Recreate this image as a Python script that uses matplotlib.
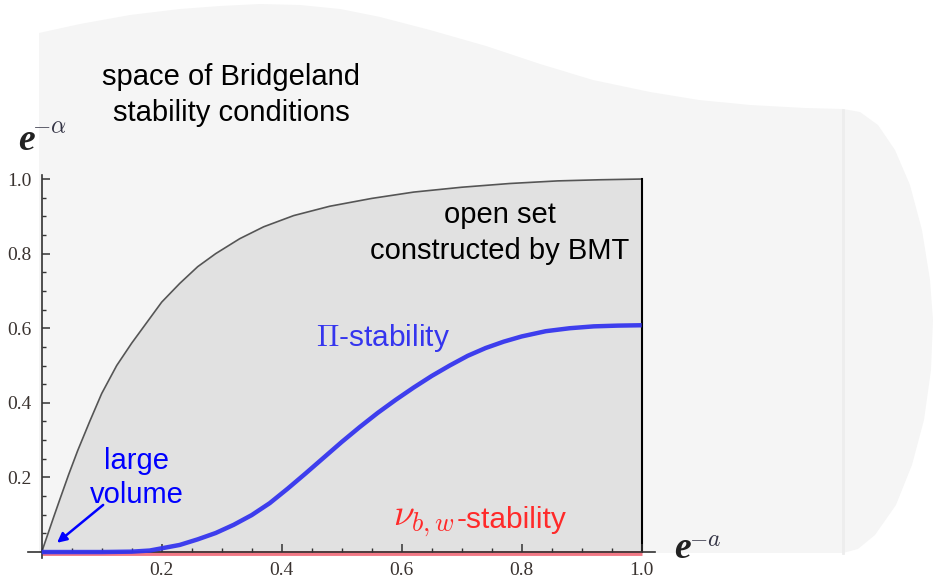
import numpy as np
import matplotlib
matplotlib.use("Agg")
import matplotlib.pyplot as plt
from matplotlib.patches import Polygon
from matplotlib.ticker import MultipleLocator

plt.rcParams['mathtext.fontset'] = 'cm'
plt.rcParams['font.family'] = ['Liberation Sans', 'DejaVu Sans']

# ---- data ----
bmt_x = [0, 0.01, 0.02, 0.03, 0.045, 0.06, 0.08, 0.10, 0.125, 0.15, 0.175, 0.20,
         0.23, 0.26, 0.29, 0.33, 0.37, 0.42, 0.48, 0.55, 0.62, 0.70, 0.78, 0.86, 0.93, 1.0]
bmt_y = [0, 0.047, 0.094, 0.14, 0.208, 0.272, 0.35, 0.425, 0.50, 0.56, 0.615, 0.67,
         0.72, 0.765, 0.80, 0.84, 0.872, 0.902, 0.927, 0.948, 0.965, 0.978, 0.988, 0.995, 0.998, 1.0]

pi_x = [0, 0.10, 0.15, 0.18, 0.20, 0.23, 0.26, 0.29, 0.32, 0.35, 0.38, 0.41, 0.44, 0.47,
        0.50, 0.53, 0.56, 0.59, 0.62, 0.65, 0.68, 0.71, 0.74, 0.77, 0.80, 0.84, 0.88, 0.92, 0.96, 1.0]
pi_y = [0, 0, 0.001, 0.004, 0.010, 0.019, 0.034, 0.051, 0.073, 0.099, 0.131, 0.17, 0.211, 0.253,
        0.295, 0.335, 0.373, 0.408, 0.441, 0.472, 0.50, 0.526, 0.547, 0.564, 0.578, 0.592, 0.600,
        0.605, 0.607, 0.608]

nu_x = [0, 1.0]
nu_y = [0, 0]

major_ticks = [0.2, 0.4, 0.6, 0.8, 1.0]
tick_labels = ['0.2', '0.4', '0.6', '0.8', '1.0']

W, H = 933, 578
fig = plt.figure(figsize=(W / 100, H / 100), dpi=100)
fig.patch.set_facecolor('white')

def fp(px, py):
    return (px / W, 1 - py / H)

# background blob (decoration)
top = [(39, 33), (80, 24), (130, 15), (180, 9), (220, 6), (260, 4), (300, 5), (340, 9),
       (380, 17), (430, 30), (486, 46), (540, 64), (593, 80), (650, 92), (699, 100),
       (750, 105), (805, 108), (843, 109)]
right = [(860, 112), (878, 125), (895, 150), (910, 185), (922, 230), (930, 280),
         (933, 320), (931, 370), (924, 420), (912, 465), (896, 505), (875, 535), (858, 549), (843, 553)]
bottom = [(39, 553)]
pts = [fp(*p) for p in top + right + bottom]
fig.patches.append(Polygon(pts, closed=True, transform=fig.transFigure,
                           facecolor='#f5f5f5', edgecolor='none', zorder=-5))
fig.lines.append(plt.Line2D([843 / W, 843 / W], [1 - 110 / H, 1 - 553 / H],
                            transform=fig.transFigure, color='#ededed', lw=2.0, zorder=-4))

# axes
left_px, right_px, top_px, bot_px = 28.5, 654.9, 175.3, 558.0
ax = fig.add_axes([left_px / W, 1 - bot_px / H, (right_px - left_px) / W, (bot_px - top_px) / H])
ax.set_zorder(2)
ax.set_facecolor('none')
ax.set_xlim(-0.022, 1.022)
ax.set_ylim(-0.016, 1.01)

ax.fill_between(bmt_x, bmt_y, 0, color='#e1e1e1', lw=0, zorder=1)
ax.plot(bmt_x, bmt_y, color='#555555', lw=1.2, zorder=2)
ax.plot([1.0, 1.0], [0, 1.0], color='black', lw=1.5, zorder=2)
ax.plot(nu_x, [v - 0.003 for v in nu_y], color='#f06070', lw=3.5, alpha=0.85, zorder=4,
        solid_capstyle='butt')
ax.plot(pi_x, pi_y, color='#3535ee', lw=3.2, zorder=7, alpha=0.95, solid_capstyle='butt')

for s in ['top', 'right']:
    ax.spines[s].set_visible(False)
for s in ['left', 'bottom']:
    ax.spines[s].set_position(('data', 0))
    ax.spines[s].set_color('#333333')
    ax.spines[s].set_linewidth(1.2)
    ax.spines[s].set_zorder(5)
ax.xaxis.set_zorder(5)
ax.yaxis.set_zorder(5)

ax.set_xticks(major_ticks)
ax.set_xticklabels(tick_labels)
ax.set_yticks(major_ticks)
ax.set_yticklabels(tick_labels)
ax.xaxis.set_minor_locator(MultipleLocator(0.05))
ax.yaxis.set_minor_locator(MultipleLocator(0.05))
ax.tick_params(which='major', direction='in', length=5.5, width=1.1, color='#333333',
               labelsize=14, labelcolor='#3a3330', pad=7)
ax.tick_params(which='minor', direction='in', length=3, width=1.0, color='#333333')
for lab in ax.get_xticklabels() + ax.get_yticklabels():
    lab.set_family(['Liberation Serif'])

# axis labels
fig.text(*fp(26, 141), 'e', family=['Liberation Serif'], style='italic', weight='bold',
         fontsize=27, ha='center', va='center', color='#222222')
fig.text(*fp(49, 127), r'$-\alpha$', fontsize=17, ha='center', va='center', color='#333344')
fig.text(*fp(682, 549), 'e', family=['Liberation Serif'], style='italic', weight='bold',
         fontsize=27, ha='center', va='center', color='#222222')
fig.text(*fp(705, 540), r'$-a$', fontsize=17, ha='center', va='center', color='#333344')

# annotations
fig.text(*fp(231, 95), 'space of Bridgeland\nstability conditions', fontsize=21,
         ha='center', va='center', linespacing=1.32, color='black')
fig.text(*fp(500, 233), 'open set\nconstructed by BMT', fontsize=21,
         ha='center', va='center', linespacing=1.32, color='black')
fig.text(*fp(316, 338), r'$\Pi$-stability', fontsize=21.5, ha='left', va='center', color='#3535ee')
fig.text(*fp(137, 478), 'large\nvolume', fontsize=21, ha='center', va='center',
         linespacing=1.3, color='#0000ff')
fig.text(*fp(393, 521), r'$\nu_{b,w}$', fontsize=27, ha='left', va='center', color='#ff2a2a')
fig.text(*fp(457, 520), '-stability', fontsize=21.5, ha='left', va='center', color='#ff2a2a')

ax.annotate('', xy=(0.022, 0.02), xytext=(0.106, 0.131),
            arrowprops=dict(arrowstyle='-|>', color='#0000ff', lw=1.8, mutation_scale=14),
            zorder=8)

fig.savefig('out.png', dpi=100)
